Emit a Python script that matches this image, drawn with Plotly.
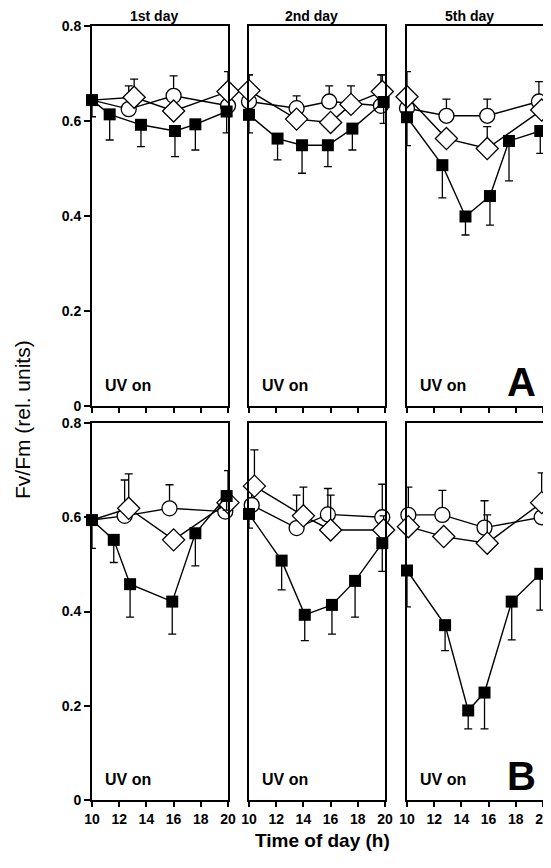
import plotly.graph_objects as go

# the page body adds an 8 px margin, so the figure is 8 px smaller and offset
OFF = 8
W, H = 551 - OFF, 868 - OFF

days = ["1st day", "2nd day", "5th day"]
x_ticks = [10, 12, 14, 16, 18, 20]
x_ticktext = ["10", "12", "14", "16", "18", "20"]
y_ticks = [0, 0.2, 0.4, 0.6, 0.8]
y_ticktext = ["0", "0.2", "0.4", "0.6", "0.8"]
panel_letters = ["A", "B"]

# ---- Row A ----
A1_sq_x = [10, 11.3, 13.6, 16.1, 17.6, 19.9]
A1_sq_y = [0.644, 0.614, 0.592, 0.579, 0.593, 0.620]
A1_sq_e = [0.035, 0.054, 0.046, 0.054, 0.054, 0.045]
A1_ci_x = [10, 12.7, 16.0, 20]
A1_ci_y = [0.644, 0.625, 0.653, 0.632]
A1_ci_e = [0.0, 0.049, 0.042, 0.02]
A1_di_x = [10, 13.1, 16.0, 20]
A1_di_y = [0.644, 0.650, 0.621, 0.662]
A1_di_e = [0.0, 0.038, 0.0, 0.042]

A2_sq_x = [10, 12.1, 13.9, 15.8, 17.6, 19.9]
A2_sq_y = [0.613, 0.563, 0.549, 0.549, 0.584, 0.640]
A2_sq_e = [0.038, 0.045, 0.059, 0.045, 0.045, 0.045]
A2_ci_x = [10, 13.5, 15.9, 19.7]
A2_ci_y = [0.641, 0.627, 0.641, 0.632]
A2_ci_e = [0.056, 0.026, 0.033, 0.065]
A2_di_x = [10, 13.5, 16.0, 17.5, 19.8]
A2_di_y = [0.664, 0.604, 0.597, 0.635, 0.662]
A2_di_e = [0.033, 0.0, 0.0, 0.039, 0.035]

A3_sq_x = [10, 12.6, 14.3, 16.1, 17.5, 19.8]
A3_sq_y = [0.608, 0.507, 0.399, 0.442, 0.558, 0.579]
A3_sq_e = [0.06, 0.069, 0.039, 0.061, 0.084, 0.047]
A3_ci_x = [10, 12.9, 15.9, 19.7]
A3_ci_y = [0.627, 0.611, 0.611, 0.641]
A3_ci_e = [0.0, 0.035, 0.035, 0.042]
A3_di_x = [10, 12.9, 15.9, 19.9]
A3_di_y = [0.651, 0.563, 0.542, 0.623]
A3_di_e = [0.053, 0.0, 0.046, 0.0]

# ---- Row B ----
B1_sq_x = [10, 11.6, 12.8, 15.9, 17.6, 19.9]
B1_sq_y = [0.594, 0.552, 0.458, 0.421, 0.566, 0.645]
B1_sq_e = [0.06, 0.048, 0.07, 0.069, 0.069, 0.03]
B1_ci_x = [10, 12.4, 15.7, 19.8]
B1_ci_y = [0.594, 0.603, 0.619, 0.612]
B1_ci_e = [0.0, 0.076, 0.05, 0.0]
B1_di_x = [10, 12.7, 16.0, 20]
B1_di_y = [0.594, 0.619, 0.552, 0.631]
B1_di_e = [0.0, 0.073, 0.0, 0.068]

B2_sq_x = [10, 12.4, 14.1, 16.1, 17.8, 19.8]
B2_sq_y = [0.607, 0.508, 0.393, 0.414, 0.465, 0.545]
B2_sq_e = [0.03, 0.062, 0.055, 0.062, 0.077, 0.06]
B2_ci_x = [10.2, 13.5, 15.8, 19.8]
B2_ci_y = [0.626, 0.577, 0.606, 0.600]
B2_ci_e = [0.03, 0.07, 0.055, 0.07]
B2_di_x = [10.4, 14.0, 16.0, 19.9]
B2_di_y = [0.666, 0.603, 0.573, 0.573]
B2_di_e = [0.077, 0.061, 0.074, 0.03]

B3_sq_x = [10, 12.8, 14.5, 15.7, 17.7, 19.8]
B3_sq_y = [0.487, 0.371, 0.190, 0.228, 0.421, 0.480]
B3_sq_e = [0.077, 0.054, 0.039, 0.077, 0.081, 0.077]
B3_ci_x = [10.1, 12.6, 15.7, 19.9]
B3_ci_y = [0.605, 0.605, 0.578, 0.600]
B3_ci_e = [0.059, 0.052, 0.057, 0.0]
B3_di_x = [10.1, 12.7, 15.9, 19.9]
B3_di_y = [0.580, 0.559, 0.545, 0.631]
B3_di_e = [0.0, 0.0, 0.06, 0.063]

panels = [
    [(A1_sq_x, A1_sq_y, A1_sq_e, A1_ci_x, A1_ci_y, A1_ci_e, A1_di_x, A1_di_y, A1_di_e),
     (A2_sq_x, A2_sq_y, A2_sq_e, A2_ci_x, A2_ci_y, A2_ci_e, A2_di_x, A2_di_y, A2_di_e),
     (A3_sq_x, A3_sq_y, A3_sq_e, A3_ci_x, A3_ci_y, A3_ci_e, A3_di_x, A3_di_y, A3_di_e)],
    [(B1_sq_x, B1_sq_y, B1_sq_e, B1_ci_x, B1_ci_y, B1_ci_e, B1_di_x, B1_di_y, B1_di_e),
     (B2_sq_x, B2_sq_y, B2_sq_e, B2_ci_x, B2_ci_y, B2_ci_e, B2_di_x, B2_di_y, B2_di_e),
     (B3_sq_x, B3_sq_y, B3_sq_e, B3_ci_x, B3_ci_y, B3_ci_e, B3_di_x, B3_di_y, B3_di_e)],
]

# pixel layout of plot areas (window pixels)
col_px = [(92, 228), (249, 385), (407, 543)]
row_px = [(26, 406), (423, 800)]


def fx(px):
    return (px - OFF) / W


def fy(py):
    return 1 - (py - OFF) / H


FONT = "Liberation Sans, Arial, Helvetica, sans-serif"
BLK = "black"
CI_SIZE, DI_SIZE, SQ_SIZE = 15, 17, 12

fig = go.Figure()
layout = {}
annotations = []

for r in range(2):
    for c in range(3):
        k = r * 3 + c + 1
        xa = "x" if k == 1 else f"x{k}"
        ya = "y" if k == 1 else f"y{k}"
        xkey = "xaxis" if k == 1 else f"xaxis{k}"
        ykey = "yaxis" if k == 1 else f"yaxis{k}"
        sx, sy, se, cx, cy, ce, dx, dy, de = panels[r][c]
        eb = dict(type="data", symmetric=False, color=BLK, thickness=1.3, width=4)
        zeros_s = [0] * len(sx)
        zeros_c = [0] * len(cx)
        zeros_d = [0] * len(dx)
        # on the first day all treatments share the starting point (drawn as the square)
        ci_sizes = [CI_SIZE] * len(cx)
        di_sizes = [DI_SIZE] * len(dx)
        if c == 0:
            ci_sizes[0] = 0
            di_sizes[0] = 0
        fig.add_trace(go.Scatter(
            x=cx, y=cy, mode="lines+markers", xaxis=xa, yaxis=ya, cliponaxis=False,
            line=dict(color=BLK, width=1.4),
            marker=dict(symbol="circle", size=ci_sizes, opacity=1, color="white",
                        line=dict(color=BLK, width=1.3)),
            error_y=dict(eb, array=ce, arrayminus=zeros_c), showlegend=False))
        fig.add_trace(go.Scatter(
            x=dx, y=dy, mode="lines+markers", xaxis=xa, yaxis=ya, cliponaxis=False,
            line=dict(color=BLK, width=1.4),
            marker=dict(symbol="diamond", size=di_sizes, opacity=1, color="white",
                        line=dict(color=BLK, width=1.3)),
            error_y=dict(eb, array=de, arrayminus=zeros_d), showlegend=False))
        fig.add_trace(go.Scatter(
            x=sx, y=sy, mode="lines+markers", xaxis=xa, yaxis=ya, cliponaxis=False,
            line=dict(color=BLK, width=1.4),
            marker=dict(symbol="square", size=SQ_SIZE, opacity=1, color=BLK,
                        line=dict(color=BLK, width=0)),
            error_y=dict(eb, array=zeros_s, arrayminus=se), showlegend=False))

        x0, x1 = col_px[c]
        y0, y1 = row_px[r]
        layout[xkey] = dict(
            domain=[fx(x0), fx(x1)], range=[10, 20], anchor=ya, automargin=False,
            showline=True, linecolor=BLK, linewidth=2, mirror=True,
            ticks="outside", ticklen=5, tickwidth=2, tickcolor=BLK,
            tickvals=x_ticks, ticktext=x_ticktext, showticklabels=(r == 1),
            tickfont=dict(family=FONT, size=14, color=BLK, weight="bold"),
            showgrid=False, zeroline=False, fixedrange=True)
        ydict = dict(
            domain=[fy(y1), fy(y0)], range=[0, 0.8], anchor=xa, automargin=False,
            showline=True, linecolor=BLK, linewidth=2, mirror=True,
            tickvals=y_ticks, ticktext=y_ticktext,
            tickfont=dict(family=FONT, size=14, color=BLK, weight="bold"),
            showgrid=False, zeroline=False, fixedrange=True)
        if c == 0:
            ydict.update(ticks="outside", ticklen=6, tickwidth=2, tickcolor=BLK, showticklabels=True)
        elif c == 2:
            ydict.update(side="right", ticks="outside", ticklen=5, tickwidth=2, tickcolor=BLK,
                         showticklabels=False)
        else:
            ydict.update(ticks="", showticklabels=False)
        layout[ykey] = ydict

        annotations.append(dict(
            text="UV on", x=10.8, y=0.022, xref=xa, yref=ya, xanchor="left", yanchor="bottom",
            showarrow=False, font=dict(family=FONT, size=16, color=BLK, weight="bold")))
        if r == 0:
            annotations.append(dict(
                text=days[c], x=fx((x0 + x1) / 2 - 6), y=fy(16), xref="paper", yref="paper",
                xanchor="center", yanchor="middle", showarrow=False,
                font=dict(family=FONT, size=14, color=BLK, weight="bold")))
        if c == 2:
            annotations.append(dict(
                text=panel_letters[r], x=19.6, y=0.0, xref=xa, yref=ya, xanchor="right",
                yanchor="bottom", showarrow=False,
                font=dict(family=FONT, size=40, color=BLK, weight="bold")))

annotations.append(dict(
    text="Fv/Fm (rel. units)", x=fx(22), y=fy(420), xref="paper", yref="paper",
    textangle=-90, xanchor="center", yanchor="middle", showarrow=False,
    font=dict(family=FONT, size=21, color=BLK)))
annotations.append(dict(
    text="Time of day (h)", x=fx(322), y=fy(840), xref="paper", yref="paper",
    xanchor="center", yanchor="middle", showarrow=False,
    font=dict(family=FONT, size=19, color=BLK, weight="bold")))

fig.update_layout(
    template="none",
    width=W, height=H, margin=dict(l=0, r=0, t=0, b=0, pad=0),
    paper_bgcolor="white", plot_bgcolor="white",
    annotations=annotations, **layout)

fig.write_html("out.html")
